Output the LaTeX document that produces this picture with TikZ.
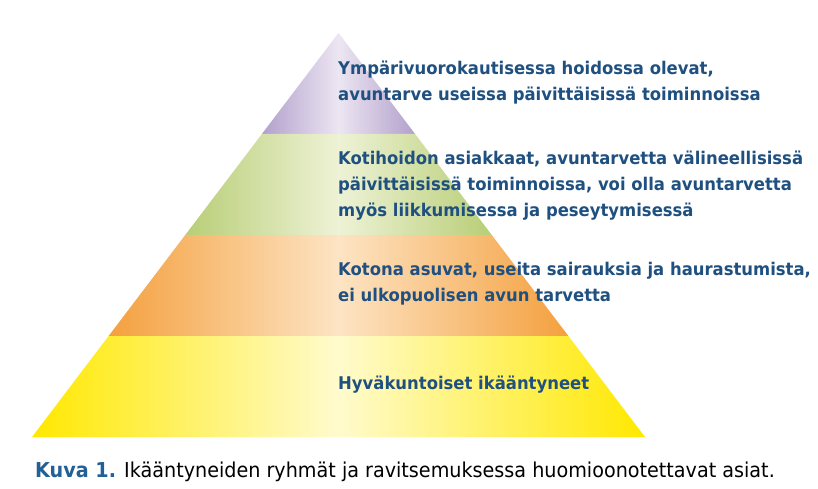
\documentclass[tikz,border=0pt]{standalone}
\usepackage{fontspec}
\newfontfamily\pyrfont{DejaVu Sans}[FakeStretch=0.94]
\newfontfamily\capfont{DejaVu Sans}[FakeStretch=0.935]
\definecolor{textblue}{RGB}{31,80,128}
\definecolor{kuvablue}{RGB}{34,96,150}
\definecolor{lilaside}{RGB}{178,160,204}
\definecolor{lilamid}{RGB}{236,230,242}
\definecolor{greenside}{RGB}{184,206,118}
\definecolor{greenmid}{RGB}{238,242,214}
\definecolor{orangeside}{RGB}{244,160,62}
\definecolor{orangemid}{RGB}{253,228,196}
\definecolor{yellowside}{RGB}{255,232,0}
\definecolor{yellowmid}{RGB}{255,251,205}
\begin{document}
\begin{tikzpicture}[x=1pt,y=-1pt,
    bandtext/.style={anchor=west,inner sep=0pt,align=left,text=textblue,
      font=\pyrfont\bfseries\fontsize{17.5}{26}\selectfont}]
        \useasboundingbox[fill=white] (0,0) rectangle (818,489);
        % pyramid bands, top to bottom
        \shade[left color=lilaside,right color=lilaside,middle color=lilamid]
            (338.5,33) -- (415.1,134) -- (261.9,134) -- cycle;
        \shade[left color=greenside,right color=greenside,middle color=greenmid]
            (261.9,134) -- (415.1,134) -- (491.75,235) -- (185.25,235) -- cycle;
        \shade[left color=orangeside,right color=orangeside,middle color=orangemid]
            (185.25,235) -- (491.75,235) -- (568.4,336) -- (108.6,336) -- cycle;
        \shade[left color=yellowside,right color=yellowside,middle color=yellowmid]
            (108.6,336) -- (568.4,336) -- (645,437) -- (32,437) -- cycle;
        % texts
        \node[bandtext] (hoito) at (338,83)
            {Ympärivuorokautisessa hoidossa olevat,\\avuntarve useissa päivittäisissä toiminnoissa};
        \node[bandtext] (koti) at (338,186)
            {Kotihoidon asiakkaat, avuntarvetta välineellisissä\\päivittäisissä toiminnoissa, voi olla avuntarvetta\\myös liikkumisessa ja peseytymisessä};
        \node[bandtext] (kotona) at (338,284)
            {Kotona asuvat, useita sairauksia ja haurastumista,\\ei ulkopuolisen avun tarvetta};
        \node[bandtext] (hyva) at (338,385) {Hyväkuntoiset ikääntyneet};
        \node[anchor=base west,inner sep=0pt,font=\capfont\fontsize{20.5}{24}\selectfont] (kuva) at (35,477)
            {\textcolor{kuvablue}{\bfseries Kuva 1.} Ikääntyneiden ryhmät ja ravitsemuksessa huomioonotettavat asiat.};
    \end{tikzpicture}
\end{document}
